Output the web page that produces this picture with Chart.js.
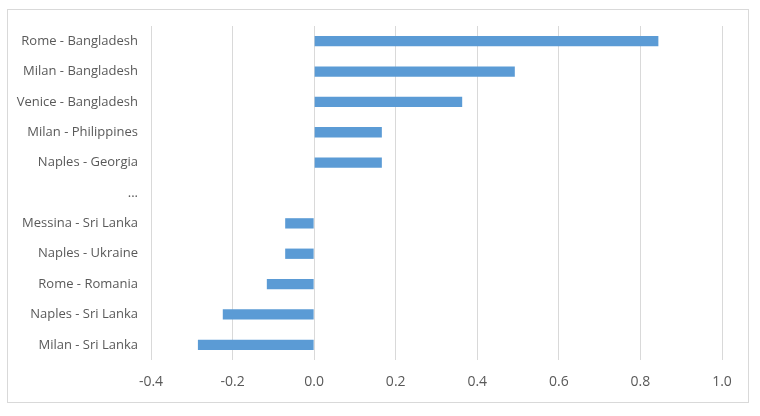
<!DOCTYPE html>
<html>
<head>
<meta charset="utf-8">
<script src="https://cdn.jsdelivr.net/npm/chart.js@4"></script>
<style>
  html, body { margin: 0; padding: 0; background: #fff; }
  #wrap { width: 760px; height: 416px; }
</style>
</head>
<body>
<div id="wrap"><canvas id="chart" width="760" height="416"></canvas></div>
<script>
const pairs = [
  "Rome - Bangladesh",
  "Milan - Bangladesh",
  "Venice - Bangladesh",
  "Milan - Philippines",
  "Naples - Georgia",
  "...",
  "Messina - Sri Lanka",
  "Naples - Ukraine",
  "Rome - Romania",
  "Naples - Sri Lanka",
  "Milan - Sri Lanka",
];
const scores = [0.844, 0.492, 0.363, 0.166, 0.166, null, -0.071, -0.071, -0.116, -0.224, -0.285];
const xTicks = [-0.4, -0.2, 0.0, 0.2, 0.4, 0.6, 0.8, 1.0];

// light grey frame around the whole chart, like the Excel chart area
const frame = {
  id: "frame",
  beforeDraw(chart) {
    const c = chart.ctx;
    c.save();
    c.fillStyle = "#fff";
    c.fillRect(0, 0, chart.width, chart.height);
    c.strokeStyle = "#d9d9d9";
    c.lineWidth = 1;
    c.strokeRect(7.5, 9.5, 741, 393);
    c.restore();
  },
};

const ctx = document.getElementById("chart");

new Chart(ctx, {
  type: "bar",
  data: {
    labels: pairs,
    datasets: [
      {
        data: scores,
        backgroundColor: "#5b9bd5",
        borderWidth: 0,
        barPercentage: 0.34,
        categoryPercentage: 1,
      },
    ],
  },
  options: {
    indexAxis: "y",
    responsive: false,
    animation: false,
    layout: { padding: { top: 26, right: 38, left: 10, bottom: 0 } },
    plugins: { legend: { display: false }, tooltip: { enabled: false } },
    scales: {
      x: {
        min: -0.4,
        max: 1.0,
        afterBuildTicks: (scale) => {
          scale.ticks = xTicks.map((v) => ({ value: v }));
        },
        afterFit: (scale) => {
          scale.height = 56;
        },
        grid: { color: "#d9d9d9", drawTicks: false, lineWidth: 1 },
        border: { display: false },
        ticks: {
          padding: 14,
          color: "#595959",
          font: { family: "Open Sans", size: 14 },
          callback: (v) => Number(v).toFixed(1),
        },
      },
      y: {
        afterFit: (scale) => {
          scale.width = 141;
        },
        grid: { display: false },
        border: { display: false },
        ticks: {
          padding: 5,
          color: "#595959",
          font: { family: "Open Sans", size: 13 },
        },
      },
    },
  },
  plugins: [frame],
});
</script>
</body>
</html>
